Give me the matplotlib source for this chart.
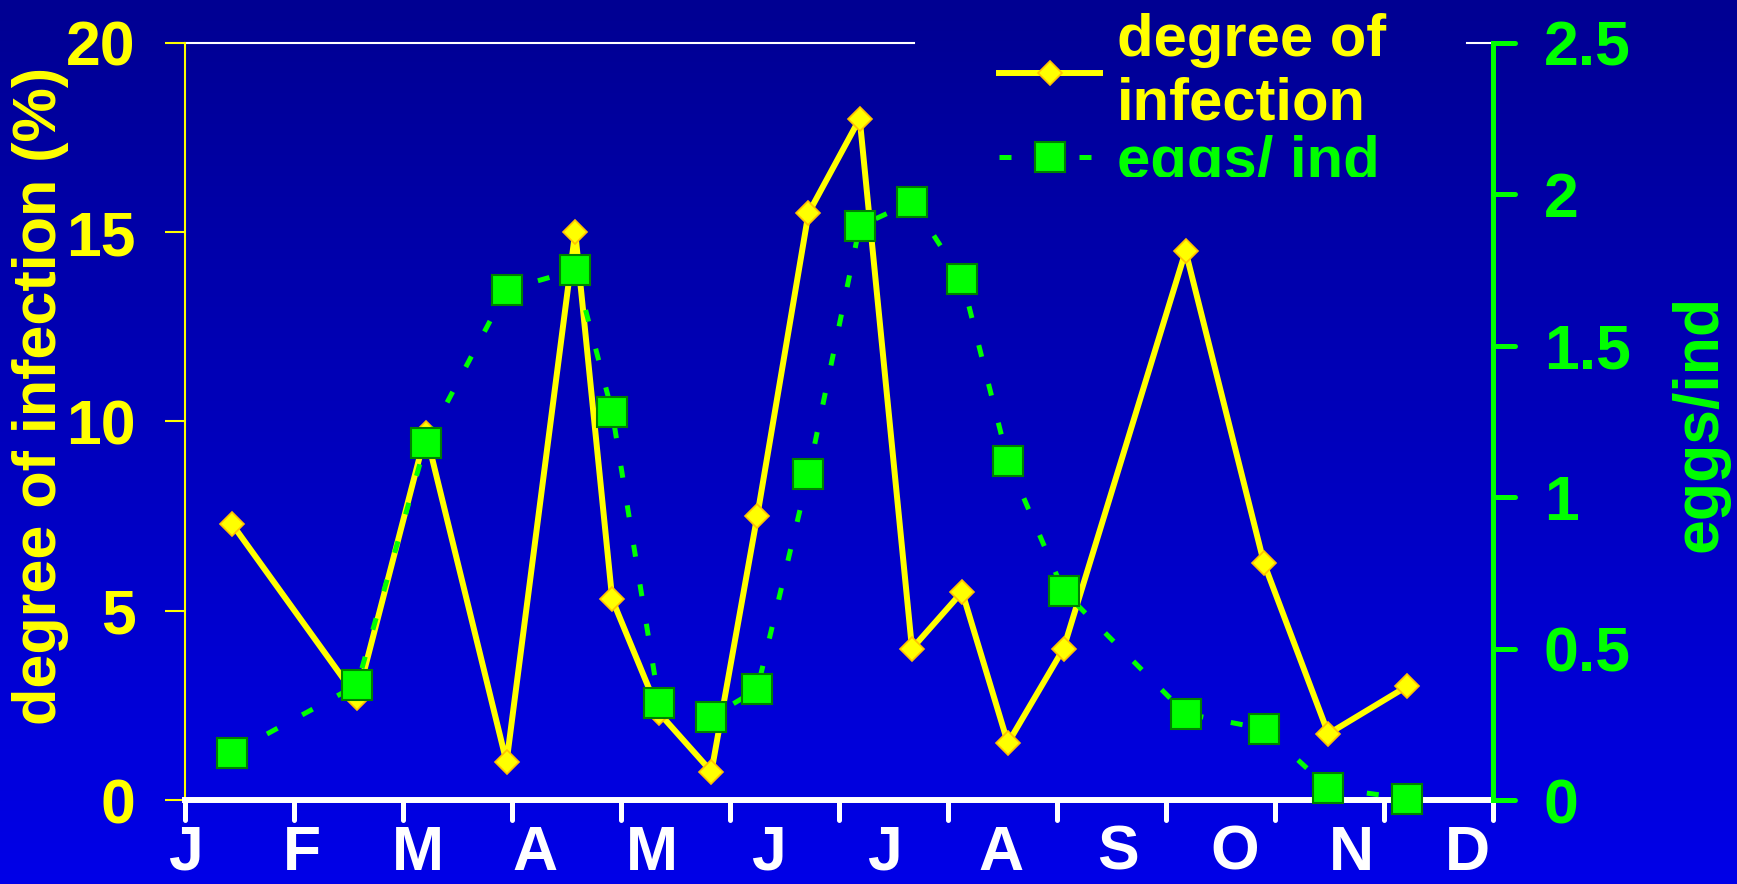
import matplotlib
matplotlib.use('Agg')
import matplotlib.pyplot as plt
import numpy as np
from matplotlib.colors import LinearSegmentedColormap
from matplotlib.markers import MarkerStyle
from matplotlib.transforms import Bbox

plt.rcParams['font.family'] = ['Liberation Sans', 'DejaVu Sans']
plt.rcParams['font.weight'] = 'bold'
plt.rcParams['axes.labelweight'] = 'bold'

# data (x in months from start of January)
months = ['J', 'F', 'M', 'A', 'M', 'J', 'J', 'A', 'S', 'O', 'N', 'D']
sample_x = [0.43, 1.58, 2.21, 2.95, 3.58, 3.92, 4.35, 4.83, 5.25, 5.72,
            6.19, 6.67, 7.13, 7.55, 8.06, 9.18, 9.90, 10.49, 11.21]
infection = [7.3, 2.7, 9.7, 1.0, 15.0, 5.3, 2.3, 0.75, 7.5, 15.5,
             18.0, 4.0, 5.5, 1.5, 4.0, 14.5, 6.25, 1.75, 3.0]
eggs = [0.155, 0.38, 1.18, 1.685, 1.75, 1.28, 0.32, 0.275, 0.365, 1.075,
        1.895, 1.975, 1.72, 1.12, 0.69, 0.285, 0.235, 0.04, 0.005]
left_ticks = [0, 5, 10, 15, 20]
right_ticks = [0, 0.5, 1, 1.5, 2, 2.5]
right_labels = ['0', '0.5', '1', '1.5', '2', '2.5']

fig = plt.figure(figsize=(17.37, 8.84), dpi=100)

# blue gradient background
bg = fig.add_axes([0, 0, 1, 1], zorder=-10)
cmap = LinearSegmentedColormap.from_list('bg', ['#000092', '#0000E8'])
bg.imshow(np.linspace(0, 1, 256).reshape(-1, 1), aspect='auto', cmap=cmap,
          extent=[0, 1, 0, 1], origin='upper')
bg.axis('off')

ax = fig.add_axes([0.1065, 0.095, 0.7530, 0.8564])
ax.patch.set_alpha(0)
ax2 = ax.twinx()
ax2.patch.set_alpha(0)

l1, = ax.plot(sample_x, infection, color='#FFFF00', lw=4.3, marker='D', ms=12,
              mfc='#FFFF00', mec='#FFC000', mew=1.2, clip_on=False, zorder=3)
l2, = ax2.plot(sample_x, eggs, color='#00FF00', lw=3.6, ls=(0, (2.4, 5.6)),
               marker='s', ms=21, mfc='#00FF00', mec='#008000', mew=1.5,
               clip_on=False, zorder=3)

ax.set_xlim(0, 12)
ax.set_ylim(0, 20)
ax2.set_ylim(0, 2.5)

# x axis: ticks at month boundaries, letters spread evenly
ax.xaxis.remove_overlapping_locs = False
ax.set_xticks(range(13))
ax.set_xticklabels([])
ax.set_xticks(np.linspace(0, 11.77, 12), minor=True)
ax.set_xticklabels(months, minor=True)
ax.tick_params(axis='x', which='major', length=14.5, width=3.6, color='white')
ax.tick_params(axis='x', which='minor', length=0, pad=17, labelsize=45,
               labelcolor='white')

ax.set_yticks(left_ticks)
ax.tick_params(axis='y', length=14.5, width=1.5, color='#FFFF00',
               labelcolor='#FFFF00', labelsize=45, pad=21)
ax2.set_yticks(right_ticks)
ax2.set_yticklabels(right_labels)
ax2.tick_params(axis='y', length=15.5, width=3.6, color='#00FF00',
                labelcolor='#00FF00', labelsize=45, pad=21)

# rounded tick ends
for tl in list(ax.xaxis.get_majorticklines()) + list(ax2.yaxis.get_majorticklines()):
    tl.set_marker(MarkerStyle(tl.get_marker(), capstyle='round'))

for s in ['top', 'right']:
    ax.spines[s].set_visible(False)
for s in ['top', 'left', 'bottom']:
    ax2.spines[s].set_visible(False)
ax.spines['left'].set_color('#FFFF00')
ax.spines['left'].set_linewidth(1.5)
ax.spines['bottom'].set_color('white')
ax.spines['bottom'].set_linewidth(4.3)
ax.spines['bottom'].set_zorder(2.5)
ax2.spines['right'].set_color('#00FF00')
ax2.spines['right'].set_linewidth(3.6)

# thin white top border, interrupted by the legend
ax.plot([0, 0.557], [1, 1], transform=ax.transAxes, color='white', lw=1.5,
        clip_on=False)
ax.plot([0.9805, 1], [1, 1], transform=ax.transAxes, color='white', lw=1.5,
        clip_on=False)

ax.set_ylabel('degree of infection (%)', color='#FFFF00', fontsize=44)
ax.yaxis.set_label_coords(-0.089, 0.534)
ax2.set_ylabel('eggs/ind', color='#00FF00', fontsize=45)
ax2.yaxis.set_label_coords(1.136, 0.498)

leg = ax2.legend([l1, l2], ['degree of\ninfection', 'eggs/ ind'],
                 loc='upper left', bbox_to_anchor=(0.575, 0.985),
                 bbox_transform=fig.transFigure, frameon=False, fontsize=43,
                 handlelength=1.7, handletextpad=0.28, borderpad=0,
                 labelspacing=0.05, borderaxespad=0)
leg.get_texts()[0].set_color('#FFFF00')
leg.get_texts()[1].set_color('#00FF00')

# the green legend text is cut off at its baseline in the original
fig.canvas.draw()
t = leg.get_texts()[1]
bb = t.get_window_extent()
cut = bb.y0 + 0.22 * 43 * 100 / 72
t.set_clip_on(True)
t.set_clip_box(Bbox([[0, cut], [fig.bbox.width, fig.bbox.height]]))

fig.savefig('out.png', dpi=100)
